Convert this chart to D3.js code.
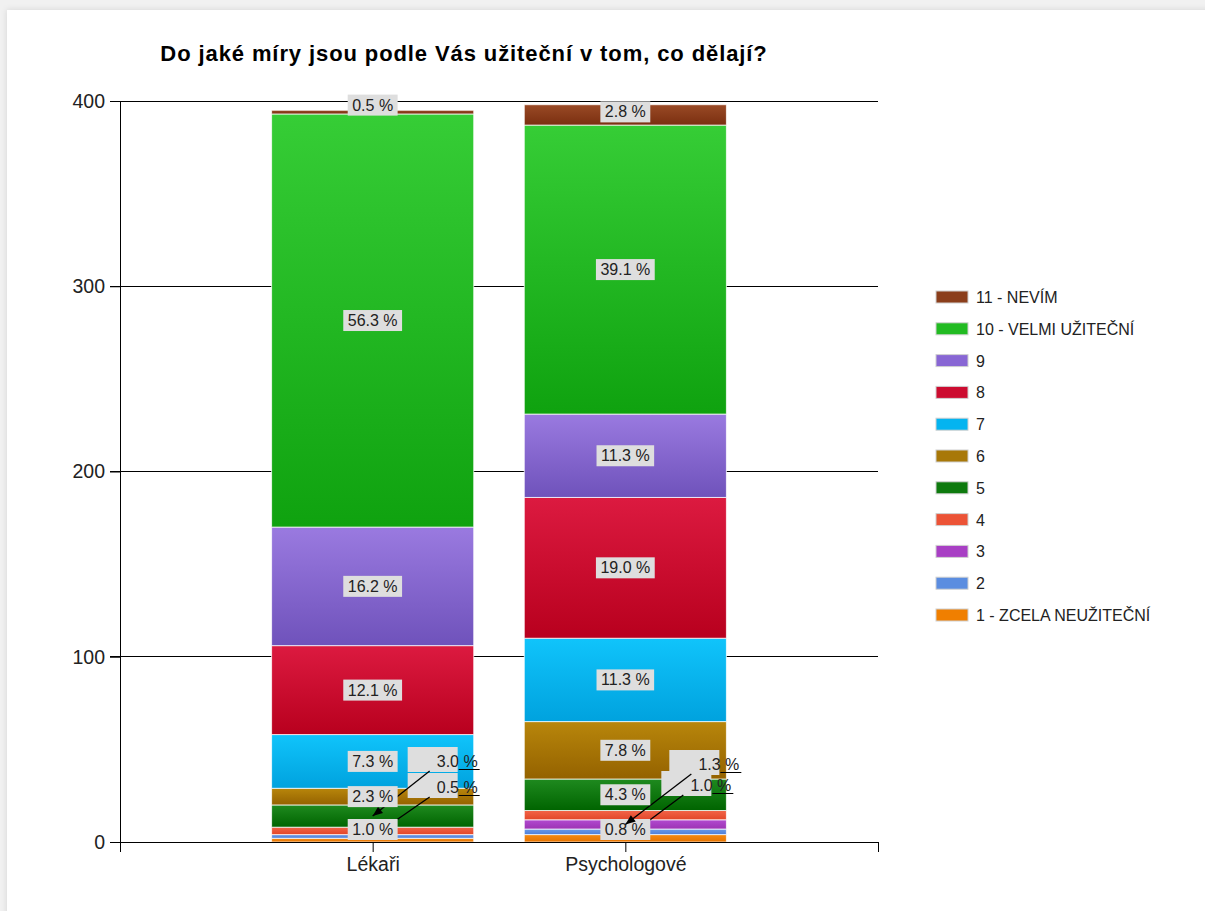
<!DOCTYPE html>
<html>
<head>
<meta charset="utf-8">
<script src="https://cdn.jsdelivr.net/npm/d3@7/dist/d3.min.js"></script>
<style>
  html, body { margin: 0; padding: 0; background: #f1f1f1; }
  svg { display: block; font-family: "Liberation Sans", Arial, sans-serif; }
</style>
</head>
<body>
<svg id="chart" width="1205" height="911"></svg>
<script>
// ---------------- DATA ----------------
const title = "Do jaké míry jsou podle Vás užiteční v tom, co dělají?";
const categories = ["Lékaři", "Psychologové"];
const seriesNames = ["1 - ZCELA NEUŽITEČNÍ", "2", "3", "4", "5", "6", "7", "8", "9", "10 - VELMI UŽITEČNÍ", "11 - NEVÍM"];
const lekari       = [2, 2, 0, 4, 12, 9, 29, 48, 64, 223, 2];
const psychologove = [4, 3, 5, 5, 17, 31, 45, 76, 45, 156, 11];
const respondents  = [396, 399];
const yTicks = [0, 100, 200, 300, 400];

// ---------------- STYLE / LAYOUT ----------------
const colorsTop    = ["#f58a12", "#6a9ae8", "#b24ad0", "#f26448", "#1f8a1f", "#b8860b", "#10c4fb", "#dc1a40", "#9a7ae0", "#36cd36", "#9a4a26"];
const colorsBottom = ["#e67300", "#4f7fd8", "#9c34b4", "#e24628", "#006400", "#946200", "#00a2de", "#b8001e", "#6f52bb", "#0fa20f", "#7a2f10"];
const legendColors = ["#f07f00", "#5b8de0", "#a83fc4", "#ec5336", "#0e7a0e", "#a87808", "#04b4f0", "#cc0c30", "#8866d4", "#22bb22", "#8b3e1b"];
// labels not displayed (smart labels hidden) : "categoryIndex|seriesIndex"
const hidden = ["0|0", "0|2", "1|3"];
// callout labels: key -> dx from band centre (text end), text baseline y
const callouts = {
  "0|4": {dx: 105, y: 767, arrow: true},
  "0|1": {dx: 105, y: 793, arrow: false},
  "1|2": {dx: 114, y: 770, arrow: true},
  "1|0": {dx: 106, y: 791, arrow: false}
};
const labelDy = {"0|10": -7, "1|10": -3};

const svg = d3.select("#chart");
const defs = svg.append("defs");
const sh = defs.append("filter").attr("id", "shadow").attr("x", "-5%").attr("y", "-5%").attr("width", "110%").attr("height", "110%");
sh.append("feDropShadow").attr("dx", 0).attr("dy", 0).attr("stdDeviation", 3).attr("flood-color", "#000").attr("flood-opacity", 0.12);
svg.append("rect").attr("x", 7).attr("y", 10).attr("width", 1205).attr("height", 911)
  .attr("fill", "#fff").attr("filter", "url(#shadow)");

seriesNames.forEach((s, i) => {
  const g = defs.append("linearGradient").attr("id", "grad" + i)
    .attr("x1", 0).attr("y1", 0).attr("x2", 0).attr("y2", 1);
  g.append("stop").attr("offset", "0%").attr("stop-color", colorsTop[i]);
  g.append("stop").attr("offset", "100%").attr("stop-color", colorsBottom[i]);
});

const plot = {left: 120, right: 878, top: 101, bottom: 842};
const x = d3.scalePoint().domain(categories).range([plot.left, plot.right]).padding(1);
const y = d3.scaleLinear().domain([0, 400]).range([plot.bottom, plot.top]);
const barW = x.step() * 0.8;

// title
svg.append("text").attr("x", 464).attr("y", 61).attr("text-anchor", "middle")
  .attr("font-size", 22).attr("letter-spacing", 0.9).attr("font-weight", "bold").attr("fill", "#000").text(title);

// gridlines
svg.append("g").selectAll("line").data(yTicks.filter(d => d > 0)).join("line")
  .attr("x1", plot.left - 10).attr("x2", plot.right)
  .attr("y1", d => y(d)).attr("y2", d => y(d))
  .attr("stroke", "#000").attr("stroke-width", 1).attr("shape-rendering", "crispEdges");

// stacked data
const table = categories.map((c, ci) => {
  const vals = ci === 0 ? lekari : psychologove;
  const row = {category: c};
  seriesNames.forEach((s, si) => row[s] = vals[si]);
  return row;
});
const stacked = d3.stack().keys(seriesNames)(table);

const barsG = svg.append("g");
stacked.forEach((layer, si) => {
  barsG.selectAll(null).data(layer.filter(d => d[1] - d[0] > 0)).join("rect")
    .attr("x", d => x(d.data.category) - barW / 2)
    .attr("width", barW)
    .attr("y", d => y(d[1]))
    .attr("height", d => y(d[0]) - y(d[1]))
    .attr("fill", "url(#grad" + si + ")")
    .attr("stroke", "rgba(255,255,255,0.75)").attr("stroke-width", 1);
});

// axes
const yAxis = d3.axisLeft(y).tickValues(yTicks).tickSize(10).tickPadding(5);
const yg = svg.append("g").attr("transform", `translate(${plot.left},0)`).call(yAxis);
yg.select(".domain").remove();
yg.selectAll(".tick line").attr("stroke", "#000");
yg.selectAll(".tick text").attr("font-size", 19.5).attr("fill", "#222")
  .attr("font-family", "Liberation Sans, Arial, sans-serif");
svg.append("line").attr("x1", plot.left).attr("x2", plot.left).attr("y1", plot.top).attr("y2", plot.bottom + 10)
  .attr("stroke", "#000").attr("shape-rendering", "crispEdges");

const xAxis = d3.axisBottom(x).tickSize(10).tickPadding(5).tickSizeOuter(0);
const xg = svg.append("g").attr("transform", `translate(0,${plot.bottom})`).call(xAxis);
xg.select(".domain").attr("d", `M${plot.left - 10},0.5H${plot.right}`).attr("stroke", "#000");
xg.selectAll(".tick line").attr("stroke", "#000");
xg.selectAll(".tick text").attr("font-size", 19.5).attr("fill", "#222")
  .attr("font-family", "Liberation Sans, Arial, sans-serif");
svg.append("line").attr("x1", plot.right).attr("x2", plot.right).attr("y1", plot.bottom).attr("y2", plot.bottom + 10)
  .attr("stroke", "#000").attr("shape-rendering", "crispEdges");

// data labels (drawn series by series, like the original smart labels)
const labG = svg.append("g").attr("font-size", 16).attr("fill", "#222");
const boxFill = "#dedede";
stacked.forEach((layer, si) => {
  layer.forEach((d, ci) => {
    const v = d[1] - d[0];
    const key = ci + "|" + si;
    if (v <= 0 || hidden.includes(key)) return;
    const txt = (v / respondents[ci] * 100).toFixed(1) + " %";
    const cx = x(d.data.category);
    const cy = (y(d[0]) + y(d[1])) / 2;
    if (callouts[key]) {
      const c = callouts[key];
      const tx = cx + c.dx, ty = c.y;
      labG.append("rect").attr("x", tx - 70).attr("y", ty - 20).attr("width", 50).attr("height", 25).attr("fill", boxFill);
      labG.append("text").attr("x", tx).attr("y", ty).attr("text-anchor", "end").text(txt);
      labG.append("line").attr("x1", tx - 19).attr("x2", tx + 2).attr("y1", ty + 2.5).attr("y2", ty + 2.5)
        .attr("stroke", "#000").attr("stroke-width", 1);
      const x0 = tx - 48, y0 = ty + 4;
      labG.append("line").attr("x1", x0).attr("y1", y0).attr("x2", cx).attr("y2", cy)
        .attr("stroke", "#000").attr("stroke-width", 1.3);
      if (c.arrow) {
        const ang = Math.atan2(cy - y0, cx - x0);
        const L = 10, W = 4;
        const bx = cx - L * Math.cos(ang), by = cy - L * Math.sin(ang);
        const px = -Math.sin(ang) * W, py = Math.cos(ang) * W;
        labG.append("path").attr("d", `M${cx},${cy}L${bx + px},${by + py}L${bx - px},${by - py}Z`).attr("fill", "#000");
      }
    } else {
      const t = labG.append("text").attr("x", cx).attr("text-anchor", "middle").text(txt);
      const w = t.node().getComputedTextLength() + 9;
      const h = 21;
      let top = cy - h / 2 + (labelDy[key] || 0);
      if (top + h > plot.bottom - 2) top = plot.bottom - 2 - h;
      labG.insert("rect", () => t.node()).attr("x", cx - w / 2).attr("y", top).attr("width", w).attr("height", h).attr("fill", boxFill);
      t.attr("y", top + h / 2 + 5.5);
    }
  });
});

// legend
const legG = svg.append("g").attr("transform", "translate(936,297)");
const legOrder = seriesNames.map((s, i) => i).reverse();
legOrder.forEach((si, k) => {
  const gy = k * 31.8;
  legG.append("rect").attr("x", 0).attr("y", gy - 6).attr("width", 32).attr("height", 12)
    .attr("fill", legendColors[si]).attr("stroke", "#d0d0d0").attr("stroke-width", 1);
  legG.append("text").attr("x", 40).attr("y", gy + 6).attr("font-size", 16).attr("fill", "#222").text(seriesNames[si]);
});
</script>
</body>
</html>
